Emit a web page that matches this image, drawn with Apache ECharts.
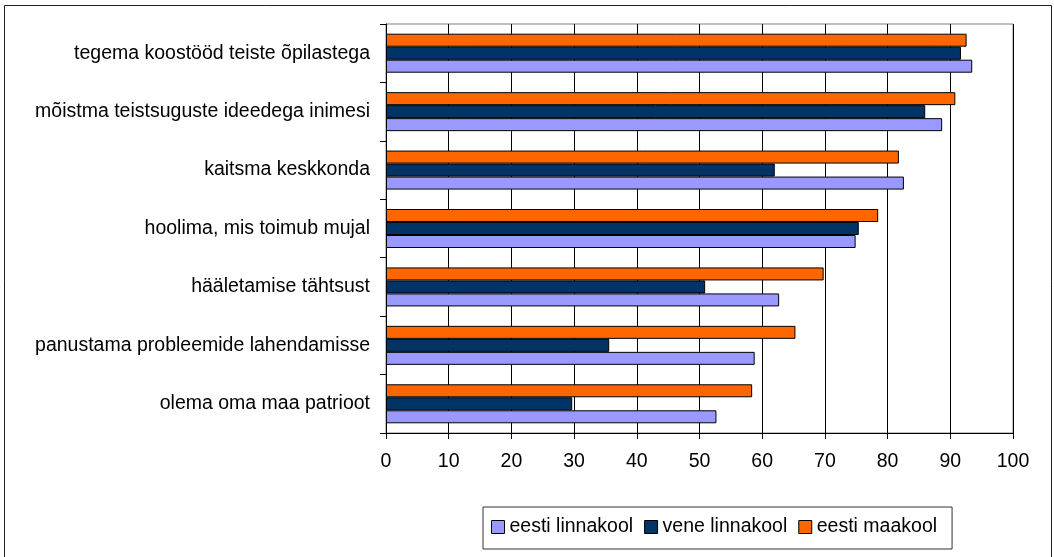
<!DOCTYPE html>
<html>
<head>
<meta charset="utf-8">
<title>chart</title>
<script src="https://cdn.jsdelivr.net/npm/echarts@6/dist/echarts.min.js"></script>
<style>
  html, body { margin: 0; padding: 0; background: #fff; }
  #chart { width: 1054px; height: 557px; }
</style>
</head>
<body>
<div id="chart"></div>
<script>
// kategooriad ülevalt alla
const categories = [
  "tegema koostööd teiste õpilastega",
  "mõistma teistsuguste ideedega inimesi",
  "kaitsma keskkonda",
  "hoolima, mis toimub mujal",
  "hääletamise tähtsust",
  "panustama probleemide lahendamisse",
  "olema oma maa patrioot",
];
const eestiLinnakool = [93.5, 88.7, 82.6, 74.9, 62.7, 58.8, 52.7];
const veneLinnakool = [91.7, 86.0, 62.0, 75.4, 50.9, 35.6, 29.7];
const eestiMaakool = [92.6, 90.8, 81.8, 78.5, 69.8, 65.3, 58.4];
const xTicks = { min: 0, max: 100, interval: 10 };

const font = "Liberation Sans, Arial, sans-serif";
const fs = 19.5;

let myChart = echarts.init(document.getElementById("chart"), null, { renderer: "canvas" });

function bar(name, values, color) {
  return {
    name: name,
    type: "bar",
    data: values,
    barWidth: 13,
    barGap: "0%",
    itemStyle: { color: color, borderColor: "#000", borderWidth: 1 },
    silent: true,
  };
}

myChart.setOption({
  animation: false,
  backgroundColor: "#fff",
  textStyle: { fontFamily: font },
  graphic: [
    {
      type: "rect",
      shape: { x: 4.5, y: 5.5, width: 1047, height: 600 },
      style: { fill: null, stroke: "#222", lineWidth: 1 },
      silent: true,
    },
  ],
  grid: {
    left: 386,
    right: 41,
    top: 24,
    bottom: 124,
    show: true,
    borderColor: "#808080",
    borderWidth: 1,
  },
  xAxis: {
    type: "value",
    min: xTicks.min,
    max: xTicks.max,
    interval: xTicks.interval,
    axisLine: { show: true, lineStyle: { color: "#000", width: 1 } },
    axisTick: { show: true, inside: false, length: 6, lineStyle: { color: "#000" } },
    splitLine: { show: true, lineStyle: { color: "#000", width: 1 } },
    axisLabel: { color: "#000", fontSize: fs, fontFamily: font, margin: 19 },
  },
  yAxis: {
    type: "category",
    data: categories,
    inverse: true,
    axisLine: { show: true, lineStyle: { color: "#000", width: 1 } },
    axisTick: { show: true, inside: false, length: 6, lineStyle: { color: "#000" } },
    axisLabel: { color: "#000", fontSize: fs, fontFamily: font, margin: 16 },
  },
  legend: {
    data: ["eesti linnakool", "vene linnakool", "eesti maakool"],
    left: 483,
    top: 507,
    orient: "horizontal",
    itemWidth: 13,
    itemHeight: 13,
    itemGap: 11,
    padding: [10, 15, 12, 8],
    backgroundColor: "#fff",
    borderColor: "#333",
    borderWidth: 1,
    borderRadius: 0,
    icon: "rect",
    selectedMode: false,
    textStyle: { color: "#000", fontSize: fs, fontFamily: font },
    itemStyle: { borderColor: "#000", borderWidth: 1 },
  },
  series: [
    bar("eesti maakool", eestiMaakool, "#FF6600"),
    bar("vene linnakool", veneLinnakool, "#003366"),
    bar("eesti linnakool", eestiLinnakool, "#9999FF"),
  ],
});
</script>
</body>
</html>
